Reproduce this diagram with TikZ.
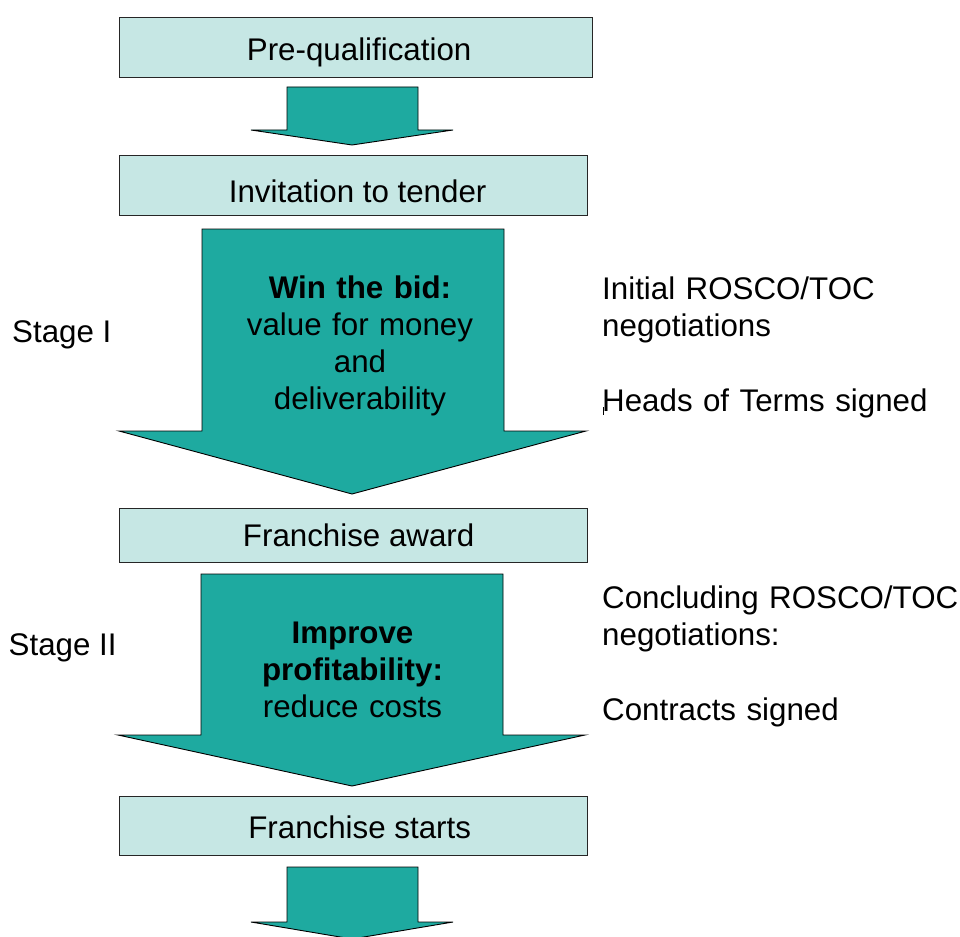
\documentclass[tikz,border=0pt]{standalone}
\usepackage{fontspec}
\setmainfont{Liberation Sans}
\definecolor{tealfill}{RGB}{30,170,160}
\definecolor{boxfill}{RGB}{198,231,228}
\newcommand\bigfont{\fontsize{31.3}{37.3}\selectfont}
\newcommand\padl[1]{\hspace*{#1pt}}
\begin{document}
\begin{tikzpicture}[x=1pt,y=-1pt,
  stagebox/.style={draw=black!85, line width=1.3pt, fill=boxfill, inner xsep=0pt, inner ysep=0pt,
    anchor=north west, font=\bigfont},
  blockarrow/.style={draw=black, line width=0.9pt, fill=tealfill, line join=miter},
  sidetext/.style={font=\bigfont, inner sep=0pt, anchor=base west, align=left, text width=360pt},
  stagetext/.style={font=\bigfont, inner sep=0pt, anchor=base west},
  arrowtext/.style={font=\bigfont, inner sep=0pt, anchor=base, align=center, text width=320pt}]
\useasboundingbox (0,0) rectangle (960,936);

% block arrows
\draw[blockarrow] (287,87) -- (418,87) -- (418,130) -- (453,130) -- (352,145) -- (251,130) -- (287,130) -- cycle;
\draw[blockarrow] (202,229) -- (504,229) -- (504,431) -- (586,431) -- (352,494) -- (119,431) -- (202,431) -- cycle;
\draw[blockarrow] (201,574) -- (503,574) -- (503,735) -- (585,735) -- (352,786) -- (118,735) -- (201,735) -- cycle;
\draw[blockarrow] (287,867) -- (418,867) -- (418,922) -- (453,922) -- (352,939) -- (251,922) -- (287,922) -- cycle;

% boxes
\node[stagebox, minimum width=473pt, text height=43pt, text depth=17pt] (prequal) at (119,17) {\padl{6}Pre-qualification};
\node[stagebox, minimum width=468pt, text height=47pt, text depth=13pt] (invite) at (119,155) {\padl{8}Invitation to tender};
\node[stagebox, minimum width=468pt, text height=38pt, text depth=16pt] (award) at (119,508) {\padl{10}Franchise award};
\node[stagebox, minimum width=468pt, text height=42pt, text depth=17pt] (starts) at (119,796) {\padl{12}Franchise starts};

% arrow texts
\node[arrowtext] (win) at (360,298) {\textbf{Win the bid:}\\value for money\\and\\deliverability};
\node[arrowtext] (improve) at (352.5,643) {\textbf{Improve}\\\textbf{profitability:}\\reduce costs};

% stage labels
\node[stagetext] (stageone) at (12,342) {Stage I};
\node[stagetext] (stagetwo) at (8.5,655) {Stage II};

% right texts
\node[sidetext] (initial) at (602,299) {Initial ROSCO/TOC\\negotiations};
\node[sidetext] (heads) at (602,411) {Heads of Terms signed};
\draw[line width=0.8pt] (603,407) -- (603,415);
\node[sidetext] (concl) at (602,608) {Concluding ROSCO/TOC\\negotiations:};
\node[sidetext] (contracts) at (602,720) {Contracts signed};
\end{tikzpicture}
\end{document}
